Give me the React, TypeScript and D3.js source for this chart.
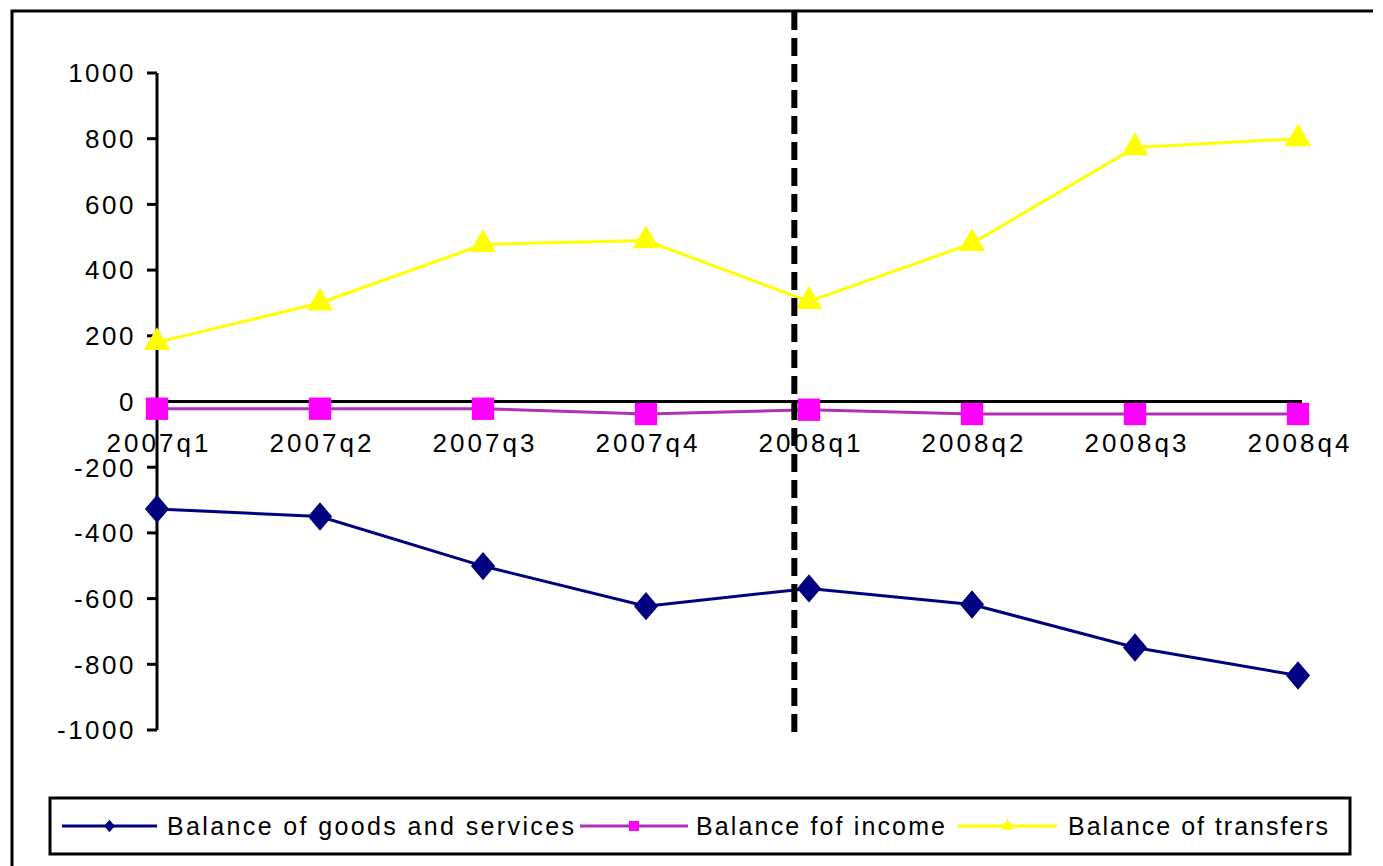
import * as d3 from "d3"
import { useRef, useEffect } from "react"

const quarters = ["2007q1", "2007q2", "2007q3", "2007q4", "2008q1", "2008q2", "2008q3", "2008q4"]
const goodsServices = [-327, -350, -501, -623, -569, -618, -749, -834]
const income = [-22, -22, -22, -38, -25, -38, -38, -38]
const transfers = [180, 300, 478, 490, 305, 481, 773, 800]
const yTicks = [1000, 800, 600, 400, 200, 0, -200, -400, -600, -800, -1000]
const seriesNames = ["Balance of goods and services", "Balance fof income", "Balance of transfers"]

const W = 1383
const H = 866
const FONT = "'Liberation Sans', Arial, sans-serif"

// wider-than-d3 diamond, like the Excel marker
const wideDiamond: d3.SymbolType = {
  draw(ctx, size) {
    const h = Math.sqrt(size) * 0.6
    const w = h * 0.85
    ctx.moveTo(0, -h)
    ctx.lineTo(w, 0)
    ctx.lineTo(0, h)
    ctx.lineTo(-w, 0)
    ctx.closePath()
  },
}

export default function App() {
  const svgRef = useRef<SVGSVGElement>(null)

  useEffect(() => {
    if (!svgRef.current) return
    const svg = d3.select(svgRef.current)
    svg.selectAll("*").remove()

    const x = d3.scalePoint<string>().domain(quarters).range([157, 1298])
    const y = d3.scaleLinear().domain([-1000, 1000]).range([730, 73])

    // outer frame (only top and left edges fall inside the picture)
    svg.append("path").attr("d", `M12,${H} L12,11 L1373,11`).attr("fill", "none").attr("stroke", "#000").attr("stroke-width", 3)

    // y axis
    const yAxis = svg.append("g")
    yAxis.append("line").attr("x1", 157).attr("x2", 157).attr("y1", y(1000)).attr("y2", y(-1000)).attr("stroke", "#000").attr("stroke-width", 3)
    yTicks.forEach((t) => {
      yAxis.append("line").attr("x1", 147).attr("x2", 157).attr("y1", y(t)).attr("y2", y(t)).attr("stroke", "#000").attr("stroke-width", 3)
      yAxis
        .append("text")
        .attr("x", 136)
        .attr("y", y(t))
        .attr("dy", "0.36em")
        .attr("text-anchor", "end")
        .style("font-family", FONT)
        .style("font-size", "26px")
        .style("letter-spacing", "2.5px")
        .text(t)
    })

    // zero line (category axis)
    svg.append("line").attr("x1", 157).attr("x2", x("2008q4")! + 4).attr("y1", y(0)).attr("y2", y(0)).attr("stroke", "#000").attr("stroke-width", 3)

    quarters.forEach((q) => {
      svg
        .append("text")
        .attr("x", x(q)! + 2)
        .attr("y", 452)
        .attr("text-anchor", "middle")
        .style("font-family", FONT)
        .style("font-size", "26px")
        .style("letter-spacing", "3px")
        .text(q)
    })

    const series = [
      { name: seriesNames[0], values: goodsServices, line: "#000080", fill: "#000080", symbol: wideDiamond, size: 560, legSize: 110 },
      { name: seriesNames[1], values: income, line: "#b030b8", fill: "#ff00ff", symbol: d3.symbolSquare, size: 500, legSize: 100 },
      { name: seriesNames[2], values: transfers, line: "#ffff00", fill: "#ffff00", symbol: d3.symbolTriangle, size: 300, legSize: 70 },
    ]

    const line = d3
      .line<number>()
      .x((_, i) => x(quarters[i])!)
      .y((d) => y(d))

    series.forEach((s) => {
      svg.append("path").attr("d", line(s.values)).attr("fill", "none").attr("stroke", s.line).attr("stroke-width", 3)
      svg
        .append("g")
        .selectAll("path")
        .data(s.values)
        .enter()
        .append("path")
        .attr("transform", (d, i) => `translate(${x(quarters[i])},${y(d)})`)
        .attr("d", d3.symbol().type(s.symbol).size(s.size)())
        .attr("fill", s.fill)
    })

    // dashed divider just before 2008q1
    const step = x.step()
    const divX = x("2008q1")! - step * 0.09
    svg
      .append("line")
      .attr("x1", divX)
      .attr("x2", divX)
      .attr("y1", 12)
      .attr("y2", 733)
      .attr("stroke", "#000")
      .attr("stroke-width", 6)
      .attr("stroke-dasharray", "18 8")

    // legend
    const leg = svg.append("g")
    leg.append("rect").attr("x", 50).attr("y", 798).attr("width", 1300).attr("height", 56).attr("fill", "#fff").attr("stroke", "#000").attr("stroke-width", 3)
    const legItems = [
      { x0: 62, x1: 157, tx: 167, tw: 407 },
      { x0: 580, x1: 688, tx: 696, tw: 249 },
      { x0: 958, x1: 1057, tx: 1068, tw: 260 },
    ]
    const ly = 826
    series.forEach((s, i) => {
      const it = legItems[i]
      leg.append("line").attr("x1", it.x0).attr("x2", it.x1).attr("y1", ly).attr("y2", ly).attr("stroke", s.line).attr("stroke-width", 3)
      leg
        .append("path")
        .attr("transform", `translate(${(it.x0 + it.x1) / 2},${ly})`)
        .attr("d", d3.symbol().type(s.symbol).size(s.legSize)())
        .attr("fill", s.fill)
      leg
        .append("text")
        .attr("x", it.tx)
        .attr("y", ly + 9)
        .attr("textLength", it.tw)
        .attr("lengthAdjust", "spacing")
        .style("font-family", FONT)
        .style("font-size", "25px")
        .text(s.name)
    })
  }, [])

  return (
    <svg
      ref={svgRef}
      width={W}
      height={H}
      style={{ position: "absolute", left: 0, top: 0, background: "#fff" }}
    ></svg>
  )
}
